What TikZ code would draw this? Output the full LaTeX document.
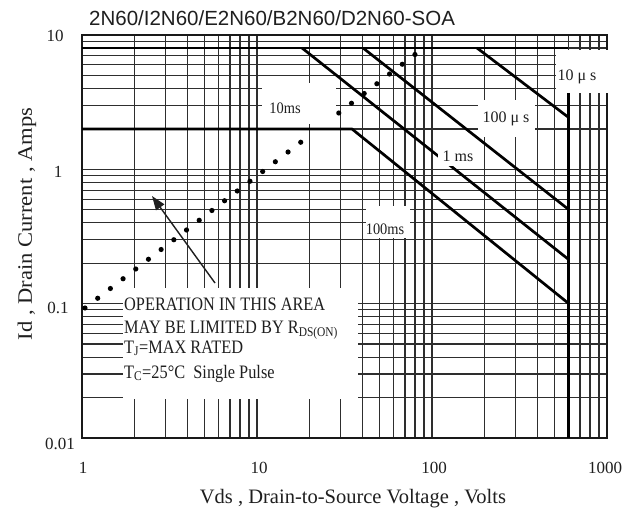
\documentclass[tikz,border=0pt]{standalone}
\usepackage{fontspec}
\setmainfont{Liberation Serif}
\newfontfamily\titlefont{Liberation Sans}
\usetikzlibrary{arrows.meta}
\tikzset{
  gridline/.style={draw=black!82, line width=1.25pt},
  framebox/.style={draw=black!90, line width=1.7pt},
  soa/.style={draw=black, line width=2.7pt, line join=round},
  limitline/.style={draw=black, line width=3pt},
  whitebox/.style={fill=white, draw=none},
  rdsdot/.style={fill=black},
  ticklbl/.style={font=\fontsize{17}{17}\selectfont, text=black!88, inner sep=0pt},
  curvelbl/.style={font=\fontsize{16}{16}\selectfont, text=black!88, inner sep=0pt},
  notelbl/.style={font=\fontsize{19}{19}\selectfont, text=black!88, inner sep=0pt, anchor=base west},
  axislbl/.style={font=\fontsize{20.5}{20.5}\selectfont, text=black!88, inner sep=0pt},
  pointer/.style={draw=black!88, line width=1.4pt, -{Triangle[length=14pt,width=10pt]}}
}
\begin{document}
\begin{tikzpicture}[x=1pt,y=-1pt]
\useasboundingbox (0,0) rectangle (630,516);
\fill[white] (0,0) rectangle (630,516);
% log grid
\foreach \d in {0,1,2}{
  \foreach \k in {1,...,9}{
    \pgfmathsetmacro\gx{82+175*(\d+log10(\k))}
    \pgfmathsetmacro\gy{438-134.333*(\d+log10(\k))}
    \draw[gridline] (\gx,35) -- (\gx,438);
    \draw[gridline] (82,\gy) -- (607,\gy);
  }
}
\draw[framebox] (82,35) rectangle (607,438);
% RDS(on) limit dots
\foreach \i in {0,...,17,20,21,...,26}{
  \fill[rdsdot] ({85+12.69*\i},{308-9.75*\i}) circle (2.6);
}
% white label areas
\fill[whitebox] (262,83) rectangle (336,124);
\fill[whitebox] (478,100) rectangle (535,137);
\fill[whitebox] (556,50) rectangle (611,93);
\fill[whitebox] (366,206) rectangle (410,238);
\fill[whitebox] (123,288) rectangle (358,399);
% SOA lines
\coordinate (i8l) at (82,48);
\coordinate (i8r) at (568,48);
\coordinate (us10a) at (477,48);
\coordinate (us10b) at (568,117);
\coordinate (us100a) at (363,48);
\coordinate (us100b) at (568,209);
\coordinate (ms1a) at (302,48);
\coordinate (ms1b) at (568,259);
\coordinate (i2l) at (82,129);
\coordinate (i2k) at (352,129);
\coordinate (ms100b) at (568,303);
\coordinate (vtop) at (568,93);
\coordinate (vbot) at (568,438);
\draw[soa] (i8l) -- (i8r);
\draw[soa] (us10a) -- (us10b);
\draw[soa] (us100a) -- (us100b);
\draw[soa] (ms1a) -- (ms1b);
\draw[soa] (i2l) -- (i2k) -- (ms100b);
\draw[limitline] (vtop) -- (vbot);
\fill[whitebox] (438,150) rectangle (476,166);
% curve labels
\node[curvelbl] (l10ms) at (285,108) {\scalebox{0.9}[1]{10ms}};
\node[curvelbl] (l100us) at (506,119) {100 μ s};
\node[curvelbl] (l1ms) at (458,156) {1 ms};
\node[curvelbl] (l10us) at (577,77) {10 μ s};
\node[curvelbl] (l100ms) at (385,229) {\scalebox{0.9}[1]{100ms}};
% note
\node[notelbl] (n1) at (124,310) {\scalebox{0.86}[1]{OPERATION IN THIS AREA}};
\node[notelbl] (n2) at (124,333) {\scalebox{0.86}[1]{MAY BE LIMITED BY R\textsubscript{DS(ON)}}};
\node[notelbl] (n3) at (124,353) {\scalebox{0.86}[1]{T\textsubscript{J}=MAX RATED}};
\node[notelbl] (n4) at (124,378) {\scalebox{0.86}[1]{T\textsubscript{C}=25°C\ \ Single Pulse}};
\coordinate (arrtail) at (215,283);
\coordinate (arrtip) at (152,196);
\draw[pointer] (arrtail) -- (arrtip);
% tick labels
\node[ticklbl] (y10) at (55,36) {10};
\node[ticklbl] (y1) at (58,172) {1};
\node[ticklbl] (y01) at (58,308) {0.1};
\node[ticklbl] (y001) at (60,444) {0.01};
\node[ticklbl] (x1) at (83,468) {1};
\node[ticklbl] (x10) at (259,468) {10};
\node[ticklbl] (x100) at (434,468) {100};
\node[ticklbl] (x1000) at (605,468) {1000};
% axis titles
\node[axislbl] (xt) at (353,499) {Vds , Drain-to-Source Voltage , Volts};
\node[axislbl, rotate=90] (yt) at (27,224) {\scalebox{1.1}[1]{Id , Drain Current , Amps}};
\node[anchor=west, inner sep=0pt, text=black!88, font=\titlefont\fontsize{20.5}{20.5}\selectfont] (title) at (89,18) {2N60/I2N60/E2N60/B2N60/D2N60-SOA};
\end{tikzpicture}
\end{document}
